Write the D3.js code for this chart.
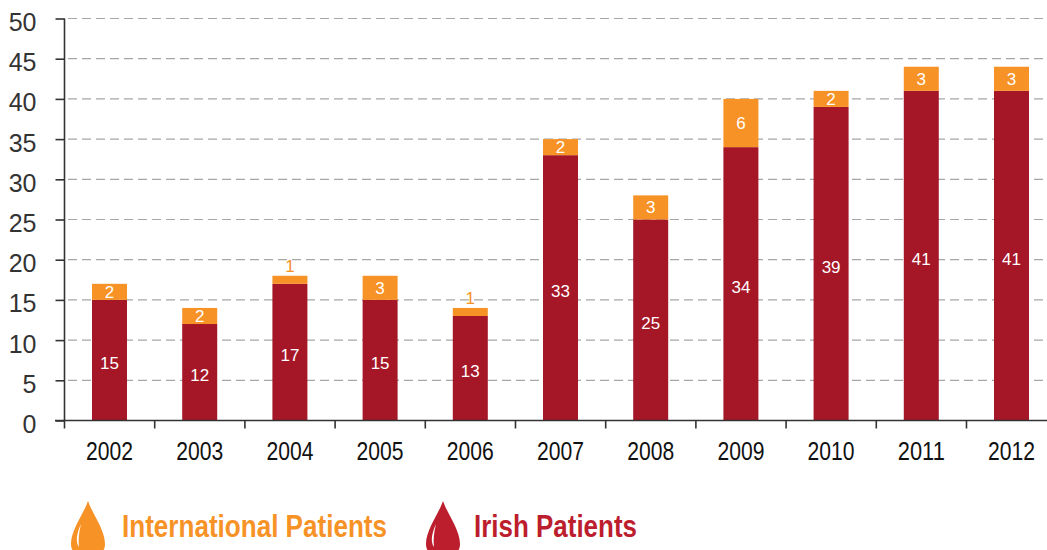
<!DOCTYPE html>
<html>
<head>
<meta charset="utf-8">
<script src="https://cdnjs.cloudflare.com/ajax/libs/d3/7.8.5/d3.min.js"></script>
<style>
  body { margin: 0; background: #fff; overflow: hidden; }
  svg { display: block; }
</style>
</head>
<body>
<div id="chart"></div>
<script>
const years = ["2002", "2003", "2004", "2005", "2006", "2007", "2008", "2009", "2010", "2011", "2012"];
const irish = [15, 12, 17, 15, 13, 33, 25, 34, 39, 41, 41];
const international = [2, 2, 1, 3, 1, 2, 3, 6, 2, 3, 3];
const yTicks = [0, 5, 10, 15, 20, 25, 30, 35, 40, 45, 50];
const legendNames = ["International Patients", "Irish Patients"];

const width = 1047;
const height = 550;
const orange = "#f79226";
const red = "#a51627";
const outer = 0.305;

const svg = d3.select("#chart").append("svg")
    .attr("width", width)
    .attr("height", height);

const x = d3.scaleBand()
    .domain(years)
    .range([64.5, 1056.5])
    .paddingInner(0.612)
    .paddingOuter(outer);

const y = d3.scaleLinear()
    .domain([0, 50])
    .range([420.5, 18.5]);

// gridlines
svg.append("g")
    .selectAll("line")
    .data(yTicks.filter(d => d > 0))
    .enter()
    .append("line")
    .attr("x1", 68)
    .attr("x2", 1047)
    .attr("y1", d => y(d))
    .attr("y2", d => y(d))
    .attr("stroke", "#a6a6a6")
    .attr("stroke-width", 1.2)
    .attr("stroke-dasharray", "9 5");

// bars
svg.append("g")
    .selectAll("rect")
    .data(years)
    .enter()
    .append("rect")
    .attr("x", d => x(d))
    .attr("y", (d, i) => y(irish[i]))
    .attr("width", x.bandwidth())
    .attr("height", (d, i) => y(0) - y(irish[i]))
    .attr("fill", red);

svg.append("g")
    .selectAll("rect")
    .data(years)
    .enter()
    .append("rect")
    .attr("x", d => x(d))
    .attr("y", (d, i) => y(irish[i] + international[i]))
    .attr("width", x.bandwidth())
    .attr("height", (d, i) => y(irish[i]) - y(irish[i] + international[i]))
    .attr("fill", orange);

// axes
const axisY = svg.append("g")
    .attr("transform", "translate(64.5,0)")
    .call(d3.axisLeft(y).tickValues(yTicks).tickSize(9).tickPadding(19));
axisY.selectAll("line").attr("stroke", "#333").attr("stroke-width", 1.6);
axisY.select(".domain").attr("stroke", "#333").attr("stroke-width", 1.6).attr("d", `M0,${y(50)}V${y(0)}`);
axisY.selectAll("text")
    .attr("dy", "0.48em")
    .attr("font-family", "'Liberation Sans', sans-serif")
    .attr("font-size", 25)
    .attr("fill", "#333");

const axisX = svg.append("g")
    .attr("transform", `translate(0,${y(0)})`)
    .call(d3.axisBottom(x).tickSize(0).tickPadding(22));
axisX.select(".domain").attr("stroke", "#333").attr("stroke-width", 1.6).attr("d", "M55,0H1047");
axisX.selectAll("text")
    .attr("font-family", "'Liberation Sans', sans-serif")
    .attr("font-size", 25)
    .attr("textLength", 47)
    .attr("lengthAdjust", "spacingAndGlyphs")
    .attr("fill", "#111");

// ticks sit between the years
svg.append("g")
    .selectAll("line")
    .data(years)
    .enter()
    .append("line")
    .attr("x1", d => x(d) - x.step() * outer)
    .attr("x2", d => x(d) - x.step() * outer)
    .attr("y1", y(0))
    .attr("y2", y(0) + 8)
    .attr("stroke", "#333")
    .attr("stroke-width", 1.6);

// value labels
svg.append("g")
    .selectAll("text")
    .data(years)
    .enter()
    .append("text")
    .attr("x", d => x(d) + x.bandwidth() / 2)
    .attr("y", (d, i) => (y(0) + y(irish[i])) / 2 + 9)
    .attr("text-anchor", "middle")
    .attr("font-family", "'Liberation Sans', sans-serif")
    .attr("font-size", 17)
    .attr("fill", "#fff")
    .text((d, i) => irish[i]);

svg.append("g")
    .selectAll("text")
    .data(years)
    .enter()
    .append("text")
    .attr("x", d => x(d) + x.bandwidth() / 2)
    .attr("y", (d, i) => {
        const mid = (y(irish[i]) + y(irish[i] + international[i])) / 2;
        // a 1 does not fit in its bar, so it goes above
        return international[i] === 1 ? y(irish[i] + 1) - 4 : mid + 6;
    })
    .attr("text-anchor", "middle")
    .attr("font-family", "'Liberation Sans', sans-serif")
    .attr("font-size", 17)
    .attr("fill", (d, i) => international[i] === 1 ? orange : "#fff")
    .text((d, i) => international[i]);

// legend
const dropPath = "M0,0 C4,12 17,29 17,43 C17,52 9,58 0,58 C-9,58 -17,52 -17,43 C-17,29 -4,12 0,0Z";
const shinePath = "M-7,23 C-11,32 -13,40 -9,46 C-10,39 -9,31 -7,23Z";
const legendX = [88, 443];
const legendTextX = [122, 474];
const legendLength = [265, 163];
const legendColors = [orange, "#bd1e2d"];

legendNames.forEach((name, i) => {
    const g = svg.append("g").attr("transform", `translate(${legendX[i]},501)`);
    g.append("path").attr("d", dropPath).attr("fill", legendColors[i]);
    g.append("path").attr("d", shinePath).attr("fill", "#fff");
    svg.append("text")
        .attr("x", legendTextX[i])
        .attr("y", 537)
        .attr("font-family", "'Liberation Sans', sans-serif")
        .attr("font-weight", "bold")
        .attr("font-size", 31)
        .attr("textLength", legendLength[i])
        .attr("lengthAdjust", "spacingAndGlyphs")
        .attr("fill", legendColors[i])
        .text(name);
});
</script>
</body>
</html>
